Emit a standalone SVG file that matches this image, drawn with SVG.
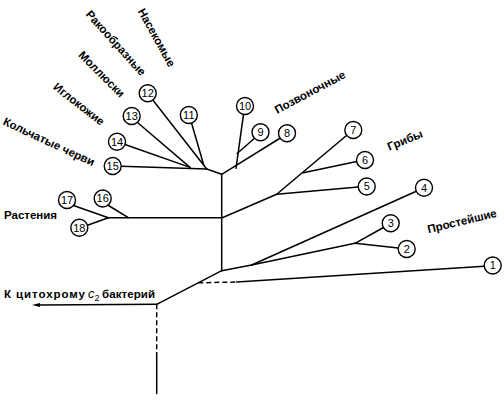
<svg xmlns="http://www.w3.org/2000/svg" width="504" height="400" viewBox="0 0 504 400">
<style>
.ln{stroke:#000;stroke-width:1.5;fill:none;stroke-linecap:round}
.dash{stroke:#000;stroke-width:1.5;fill:none;stroke-dasharray:5 3}
.nd circle{fill:#fff;stroke:#000;stroke-width:1.4}
.nd text{font-family:"Liberation Sans",Arial,sans-serif;font-size:11px;text-anchor:middle;fill:#000}
.lb{font-family:"Liberation Sans",Arial,sans-serif;font-size:11.5px;font-weight:bold;fill:#000}
.lbc{font-family:"Liberation Sans",Arial,sans-serif;font-size:11.5px;font-weight:bold;fill:#000;text-anchor:middle}
</style>
<defs>
<marker id="arr" viewBox="0 0 10 6" refX="0" refY="3" markerWidth="8" markerHeight="5" orient="auto-start-reverse" markerUnits="userSpaceOnUse">
<path d="M10,3 L0,0.6 L0,5.4 Z" fill="#000"/>
</marker>
</defs>
<g id="connectors">
<polyline class="ln" points="221.7,174.3 221.7,270.7"/>
<line class="ln" x1="221.7" y1="270.7" x2="156.7" y2="304.3"/>
<line class="ln" x1="156.7" y1="304.3" x2="40" y2="305" marker-end="url(#arr)"/>
<line class="dash" x1="156.7" y1="304.3" x2="156.7" y2="353"/>
<line class="ln" x1="156.7" y1="353" x2="156.7" y2="393.5"/>
<line class="dash" x1="198.3" y1="282.8" x2="236.7" y2="282"/>
<line class="ln" x1="236.7" y1="282" x2="484.3" y2="266.3"/>
<line class="ln" x1="221.7" y1="270.7" x2="251.7" y2="265"/>
<line class="ln" x1="251.7" y1="265" x2="416.3" y2="191.3"/>
<line class="ln" x1="251.7" y1="265" x2="355" y2="243.3"/>
<line class="ln" x1="355" y1="243.3" x2="383.5" y2="227.5"/>
<line class="ln" x1="355" y1="243.3" x2="398.3" y2="248"/>
<line class="ln" x1="221.7" y1="218" x2="276.7" y2="194.3"/>
<line class="ln" x1="276.7" y1="194.3" x2="346.5" y2="135.5"/>
<line class="ln" x1="276.7" y1="194.3" x2="358.2" y2="187"/>
<line class="ln" x1="303.3" y1="172.7" x2="356.7" y2="161.5"/>
<line class="ln" x1="221.7" y1="174.3" x2="279.5" y2="138.5"/>
<line class="ln" x1="236" y1="168.3" x2="243.5" y2="114.4"/>
<line class="ln" x1="237.2" y1="153.5" x2="254.2" y2="138.5"/>
<line class="ln" x1="221.7" y1="174.3" x2="206.7" y2="169"/>
<line class="ln" x1="206.7" y1="169" x2="121.2" y2="166.3"/>
<line class="ln" x1="190" y1="167.4" x2="125" y2="144.5"/>
<line class="ln" x1="190" y1="167.4" x2="137.5" y2="122.5"/>
<line class="ln" x1="206.7" y1="169" x2="153" y2="100.3"/>
<line class="ln" x1="203.8" y1="165.3" x2="191.6" y2="123.3"/>
<line class="ln" x1="221.7" y1="217.7" x2="108.3" y2="217.7"/>
<line class="ln" x1="108.3" y1="217.7" x2="73.5" y2="205.5"/>
<line class="ln" x1="108.3" y1="217.7" x2="87.5" y2="225.3"/>
<line class="ln" x1="128.3" y1="217.7" x2="108.5" y2="205.5"/>
</g>
<g id="n1" class="nd"><circle cx="492.7" cy="265.5" r="8.5"/><text x="492.7" y="269.4">1</text></g>
<g id="n2" class="nd"><circle cx="406.7" cy="249" r="8.5"/><text x="406.7" y="252.9">2</text></g>
<g id="n3" class="nd"><circle cx="390.7" cy="223.3" r="8.5"/><text x="390.7" y="227.2">3</text></g>
<g id="n4" class="nd"><circle cx="424" cy="187.7" r="8.5"/><text x="424" y="191.6">4</text></g>
<g id="n5" class="nd"><circle cx="366.7" cy="186.5" r="8.5"/><text x="366.7" y="190.4">5</text></g>
<g id="n6" class="nd"><circle cx="365" cy="160" r="8.5"/><text x="365" y="163.9">6</text></g>
<g id="n7" class="nd"><circle cx="353.3" cy="130" r="8.5"/><text x="353.3" y="133.9">7</text></g>
<g id="n8" class="nd"><circle cx="287" cy="133.3" r="8.5"/><text x="287" y="137.2">8</text></g>
<g id="n9" class="nd"><circle cx="260.5" cy="132.3" r="8.5"/><text x="260.5" y="136.2">9</text></g>
<g id="n10" class="nd"><circle cx="245" cy="106" r="8.5"/><text x="245" y="109.9">10</text></g>
<g id="n11" class="nd"><circle cx="188.8" cy="115" r="8.5"/><text x="188.8" y="118.9">11</text></g>
<g id="n12" class="nd"><circle cx="147.7" cy="93.3" r="8.5"/><text x="147.7" y="97.2">12</text></g>
<g id="n13" class="nd"><circle cx="131.7" cy="116" r="8.5"/><text x="131.7" y="119.9">13</text></g>
<g id="n14" class="nd"><circle cx="117" cy="141.7" r="8.5"/><text x="117" y="145.6">14</text></g>
<g id="n15" class="nd"><circle cx="112.7" cy="166" r="8.5"/><text x="112.7" y="169.9">15</text></g>
<g id="n16" class="nd"><circle cx="102.7" cy="198.5" r="8.5"/><text x="102.7" y="202.4">16</text></g>
<g id="n17" class="nd"><circle cx="67" cy="200" r="8.5"/><text x="67" y="203.9">17</text></g>
<g id="n18" class="nd"><circle cx="79.3" cy="227.7" r="8.5"/><text x="79.3" y="231.6">18</text></g>
<g id="labels">
<text class="lb" x="4" y="218.5">Растения</text>
<text class="lb" y="297.5"><tspan x="4" textLength="81" lengthAdjust="spacing">К цитохрому</tspan><tspan x="88" font-style="italic" font-weight="normal" font-size="12.5">c</tspan><tspan x="94.5" font-size="9" font-weight="normal" dy="3">2</tspan><tspan x="102" dy="-3" textLength="53" lengthAdjust="spacing">бактерий</tspan></text>
<text class="lbc" transform="translate(49,141.7) rotate(25)" x="0" y="4">Кольчатые черви</text>
<text class="lbc" transform="translate(79,104) rotate(38)" x="0" y="4">Иглокожие</text>
<text class="lbc" transform="translate(101.7,74) rotate(45)" x="0" y="4">Моллюски</text>
<text class="lbc" transform="translate(116,43) rotate(48)" x="0" y="4">Ракообразные</text>
<text class="lbc" transform="translate(156.7,37.5) rotate(61)" x="0" y="4">Насекомые</text>
<text class="lbc" transform="translate(310,92) rotate(-28)" x="0" y="4">Позвоночные</text>
<text class="lbc" transform="translate(405,140) rotate(-22)" x="0" y="4">Грибы</text>
<text class="lbc" transform="translate(462,221) rotate(-13.5)" x="0" y="4">Простейшие</text>
</g>
</svg>
